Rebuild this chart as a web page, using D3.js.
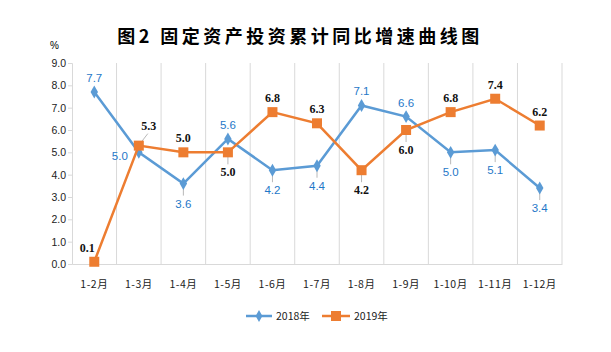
<!DOCTYPE html>
<html>
<head>
<meta charset="utf-8">
<script src="https://cdn.jsdelivr.net/npm/d3@7/dist/d3.min.js"></script>
<style>
  body { margin: 0; background: #fff; }
  svg { display: block; }
</style>
</head>
<body>
<div id="chart"></div>
<script>
var months = ["1-2月", "1-3月", "1-4月", "1-5月", "1-6月", "1-7月", "1-8月", "1-9月", "1-10月", "1-11月", "1-12月"];
var values2018 = [7.7, 5.0, 3.6, 5.6, 4.2, 4.4, 7.1, 6.6, 5.0, 5.1, 3.4];
var values2019 = [0.1, 5.3, 5.0, 5.0, 6.8, 6.3, 4.2, 6.0, 6.8, 7.4, 6.2];
var yTicks = [0, 1, 2, 3, 4, 5, 6, 7, 8, 9];
// label side: "u" above, "d" below, "l" left, "ur" up-right, "ul" up-left
var side2018 = ["u", "l", "d", "u", "d", "d", "u", "u", "d", "d", "d"];
var side2019 = ["ul", "ur", "u", "d", "u", "u", "d", "d", "u", "u", "u"];

var width = 611, height = 352;
var margin = { top: 63, left: 72, right: 49, bottom: 88 };

var svg = d3.select("#chart").append("svg")
    .attr("width", width)
    .attr("height", height);

var x = d3.scaleBand()
    .domain(months)
    .range([margin.left, width - margin.right]);

var y = d3.scaleLinear()
    .domain([0, 9])
    .range([height - margin.bottom, margin.top]);

function cx(i) { return x(months[i]) + x.bandwidth() / 2; }

// title
svg.append("text")
    .attr("x", 300)
    .attr("y", 43)
    .attr("text-anchor", "middle")
    .style("font-family", "'Noto Sans CJK SC'")
    .style("font-weight", "bold")
    .style("font-size", "18px")
    .style("letter-spacing", "3.5px")
    .text("图2 固定资产投资累计同比增速曲线图");

svg.append("text")
    .attr("x", 50)
    .attr("y", 49)
    .style("font-family", "'Liberation Sans'")
    .style("font-size", "10px")
    .text("%");

// vertical category gridlines
svg.append("g")
    .selectAll("line")
    .data(months)
    .enter().append("line")
    .attr("x1", function(d) { return x(d) + x.bandwidth(); })
    .attr("x2", function(d) { return x(d) + x.bandwidth(); })
    .attr("y1", y(9))
    .attr("y2", y(0))
    .attr("stroke", "#d9d9d9")
    .attr("stroke-width", 1);

// y axis
var yAxis = svg.append("g")
    .attr("transform", "translate(" + margin.left + ",0)")
    .call(d3.axisLeft(y).tickValues(yTicks).tickSize(4).tickFormat(d3.format(".1f")));
yAxis.select(".domain").attr("stroke", "#d9d9d9");
yAxis.selectAll(".tick line").attr("stroke", "#d9d9d9");
yAxis.selectAll(".tick text")
    .style("font-family", "'Liberation Sans'")
    .style("font-size", "10.5px")
    .attr("fill", "#222")
    .attr("x", -6);

// x axis
var xAxis = svg.append("g")
    .attr("transform", "translate(0," + y(0) + ")")
    .call(d3.axisBottom(x).tickSize(0).tickSizeOuter(0));
xAxis.select(".domain").attr("stroke", "#d9d9d9");
xAxis.selectAll(".tick text")
    .attr("y", 17)
    .style("font-family", "'Noto Sans CJK SC'")
    .style("font-size", "10.5px")
    .style("letter-spacing", "0.5px")
    .attr("fill", "#222");

var line = d3.line()
    .x(function(d, i) { return cx(i); })
    .y(function(d) { return y(d); });

function labelPos(v, i, s) {
    var px = cx(i), py = y(v);
    if (s === "u") return [px, py - 10];
    if (s === "d") return [px, py + 24];
    if (s === "l") return [px - 19, py + 8];
    if (s === "ur") return [px + 10, py - 16];
    return [px - 7, py - 10];
}

// small leader lines from labels to points
function leaders(vals, sides) {
    vals.forEach(function(v, i) {
        var px = cx(i), py = y(v);
        var s = sides[i];
        if (s === "d") {
            svg.append("line").attr("x1", px).attr("x2", px)
                .attr("y1", py + 4).attr("y2", py + 12)
                .attr("stroke", "#a6a6a6").attr("stroke-width", 0.8);
        } else if (s === "ur") {
            svg.append("line").attr("x1", px + 2).attr("x2", px + 9)
                .attr("y1", py - 3).attr("y2", py - 12)
                .attr("stroke", "#a6a6a6").attr("stroke-width", 0.8);
        }
    });
}

leaders(values2018, side2018);
leaders(values2019, side2019);

// 2018 series
svg.append("path")
    .datum(values2018)
    .attr("d", line)
    .attr("fill", "none")
    .attr("stroke", "#5b9bd5")
    .attr("stroke-width", 2.5);

svg.append("g").selectAll("path")
    .data(values2018)
    .enter().append("path")
    .attr("d", d3.symbol().type(d3.symbolDiamond).size(48))
    .attr("transform", function(d, i) { return "translate(" + cx(i) + "," + y(d) + ")"; })
    .attr("fill", "#5b9bd5");

// 2019 series
svg.append("path")
    .datum(values2019)
    .attr("d", line)
    .attr("fill", "none")
    .attr("stroke", "#ed7d31")
    .attr("stroke-width", 2.5);

svg.append("g").selectAll("rect")
    .data(values2019)
    .enter().append("rect")
    .attr("x", function(d, i) { return cx(i) - 5; })
    .attr("y", function(d) { return y(d) - 5; })
    .attr("width", 10)
    .attr("height", 10)
    .attr("fill", "#ed7d31");

// data labels
svg.append("g").selectAll("text")
    .data(values2018)
    .enter().append("text")
    .attr("x", function(d, i) { return labelPos(d, i, side2018[i])[0]; })
    .attr("y", function(d, i) { return labelPos(d, i, side2018[i])[1]; })
    .attr("text-anchor", "middle")
    .style("font-family", "'Liberation Sans'")
    .style("font-size", "11.5px")
    .attr("fill", "#1f78c8")
    .text(function(d) { return d.toFixed(1); });

svg.append("g").selectAll("text")
    .data(values2019)
    .enter().append("text")
    .attr("x", function(d, i) { return labelPos(d, i, side2019[i])[0]; })
    .attr("y", function(d, i) { return labelPos(d, i, side2019[i])[1]; })
    .attr("text-anchor", "middle")
    .style("font-family", "'Liberation Serif'")
    .style("font-weight", "bold")
    .style("font-size", "12px")
    .attr("fill", "#111")
    .text(function(d) { return d.toFixed(1); });

// legend
var legend = svg.append("g").attr("transform", "translate(0,316)");
legend.append("line").attr("x1", 246).attr("x2", 272).attr("y1", 0).attr("y2", 0)
    .attr("stroke", "#5b9bd5").attr("stroke-width", 2.5);
legend.append("path").attr("d", d3.symbol().type(d3.symbolDiamond).size(40))
    .attr("transform", "translate(259,0)").attr("fill", "#5b9bd5");
legend.append("text").attr("x", 276).attr("y", 4)
    .style("font-family", "'Noto Sans CJK SC'").style("font-size", "10.5px")
    .attr("fill", "#222").text("2018年");
legend.append("line").attr("x1", 322).attr("x2", 350).attr("y1", 0).attr("y2", 0)
    .attr("stroke", "#ed7d31").attr("stroke-width", 2.5);
legend.append("rect").attr("x", 331).attr("y", -5).attr("width", 10).attr("height", 10)
    .attr("fill", "#ed7d31");
legend.append("text").attr("x", 354).attr("y", 4)
    .style("font-family", "'Noto Sans CJK SC'").style("font-size", "10.5px")
    .attr("fill", "#222").text("2019年");
</script>
</body>
</html>
